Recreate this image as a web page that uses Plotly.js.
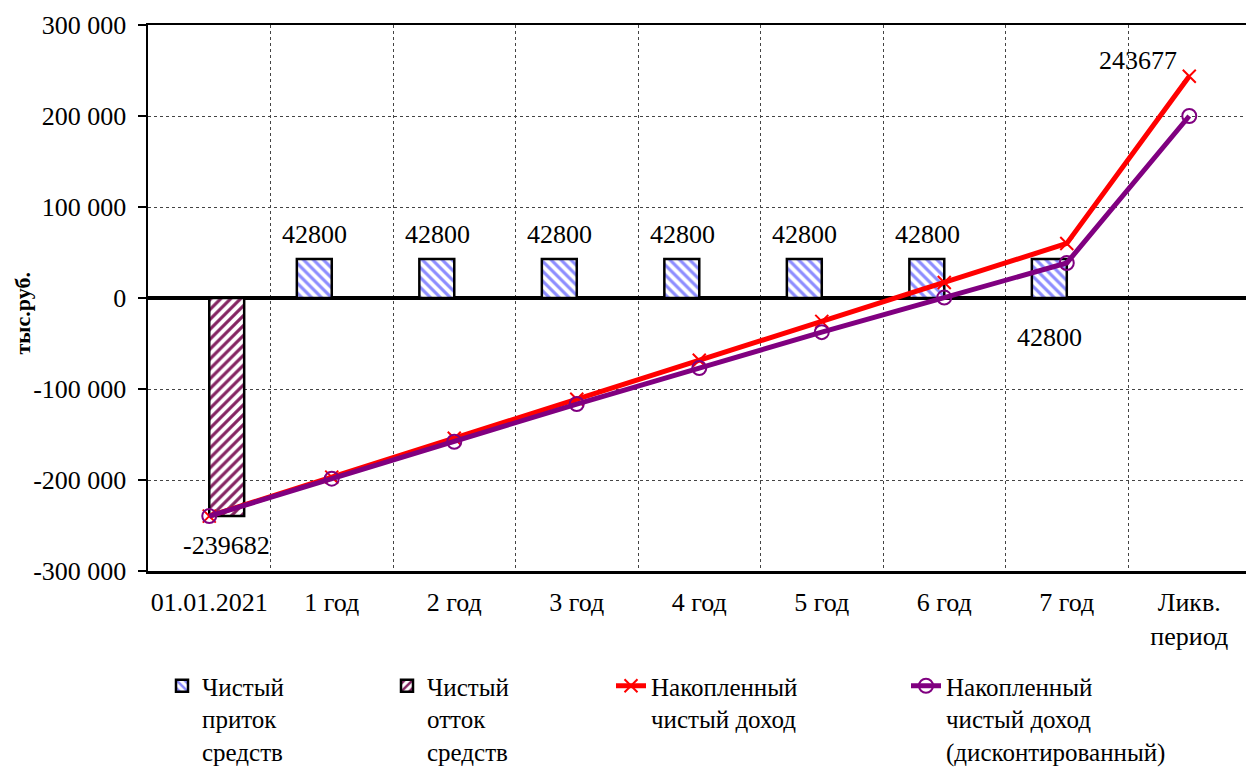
<!DOCTYPE html>
<html>
<head>
<meta charset="utf-8">
<script src="https://cdn.plot.ly/plotly-3.0.1.min.js"></script>
<style>html,body{margin:0;padding:0;background:#fff;}#chart{width:1246px;height:767px;}</style>
</head>
<body>
<div id="chart"></div>
<script>
const categories = ['01.01.2021', '1 год', '2 год', '3 год', '4 год', '5 год', '6 год', '7 год', 'Ликв.<br>период'];
const inflow = [null, 42800, 42800, 42800, 42800, 42800, 42800, 42800, null];
const outflow = [-239682, null, null, null, null, null, null, null, null];
const cumulative = [-239682, -196882, -154082, -111282, -68482, -25682, 17118, 59918, 243677];
const discounted = [-239682, -198500, -158000, -116500, -77000, -37500, 500, 38500, 200000];
const yTickVals = [300000, 200000, 100000, 0, -100000, -200000, -300000];
const yTickText = ['300 000', '200 000', '100 000', '0', '-100 000', '-200 000', '-300 000'];
const seriesNames = ['Чистый<br>приток<br>средств', 'Чистый<br>отток<br>средств', 'Накопленный<br>чистый доход', 'Накопленный<br>чистый доход<br>(дисконтированный)'];

const FONT = 'Liberation Serif';
const FS = 26;

const traces = [
  {type: 'bar', x: categories, y: inflow, name: seriesNames[0], legend: 'legend',
   marker: {color: 'white', line: {color: 'black', width: 2.5},
            pattern: {shape: '\\', fgcolor: '#8c8cff', bgcolor: 'white', size: 7, solidity: 0.45}}},
  {type: 'bar', x: categories, y: outflow, name: seriesNames[1], legend: 'legend2',
   marker: {color: 'white', line: {color: 'black', width: 2.5},
            pattern: {shape: '/', fgcolor: '#842462', bgcolor: 'white', size: 7, solidity: 0.45}}},
  {type: 'scatter', mode: 'lines+markers', x: categories, y: cumulative, name: seriesNames[2], legend: 'legend3',
   line: {color: '#ff0000', width: 5},
   marker: {symbol: 'x-thin', size: 13, color: '#ff0000', line: {color: '#ff0000', width: 2}}},
  {type: 'scatter', mode: 'lines+markers', x: categories, y: discounted, name: seriesNames[3], legend: 'legend4',
   line: {color: '#800080', width: 5},
   marker: {symbol: 'circle-open', size: 14, color: '#800080', line: {color: '#800080', width: 2}}}
];

const annotations = [];
for (let i = 1; i <= 6; i++) {
  annotations.push({x: categories[i], y: inflow[i], xref: 'x', yref: 'y', text: String(inflow[i]),
    showarrow: false, xshift: -17, yshift: 25, yanchor: 'middle', font: {family: FONT, size: FS, color: 'black'}});
}
annotations.push({x: categories[7], y: inflow[7], xref: 'x', yref: 'y', text: String(inflow[7]),
  showarrow: false, xshift: -17, yshift: -78, yanchor: 'middle', font: {family: FONT, size: FS, color: 'black'}});
annotations.push({x: categories[0], y: outflow[0], xref: 'x', yref: 'y', text: String(outflow[0]),
  showarrow: false, xshift: 17, yshift: -29, yanchor: 'middle', font: {family: FONT, size: FS, color: 'black'}});
annotations.push({x: categories[8], y: cumulative[8], xref: 'x', yref: 'y', text: String(cumulative[8]),
  showarrow: false, xshift: -51, yshift: 16, yanchor: 'middle', font: {family: FONT, size: FS, color: 'black'}});
annotations.push({x: -0.1143, y: 0.4725, xref: 'paper', yref: 'paper', text: '<b>тыс.руб.</b>', textangle: -90,
  showarrow: false, xanchor: 'center', yanchor: 'middle', font: {family: FONT, size: 22, color: 'black'}});

function legendAt(px, py) {
  return {orientation: 'v', xref: 'container', yref: 'container', x: px / 1246, y: 1 - py / 767,
          xanchor: 'left', yanchor: 'top', valign: 'top', bgcolor: 'rgba(0,0,0,0)',
          font: {family: FONT, size: 25, color: 'black'}, itemwidth: 30, tracegroupgap: 0};
}

const layout = {
  width: 1246, height: 767,
  margin: {l: 148, r: 0, t: 25, b: 196, autoexpand: false},
  paper_bgcolor: 'white', plot_bgcolor: 'white',
  font: {family: FONT, size: FS, color: 'black'},
  barmode: 'group', bargap: 0.43, bargroupgap: 0,
  showlegend: true,
  legend: legendAt(162, 663),
  legend2: legendAt(387, 663),
  legend3: legendAt(611, 663),
  legend4: legendAt(906, 663),
  xaxis: {type: 'category', range: [-0.5, 8.463], tickson: 'boundaries', ticks: '',
          showgrid: true, gridcolor: '#444', griddash: 'dot', gridwidth: 1,
          showline: true, linecolor: 'black', linewidth: 2.5, mirror: true, tickangle: 0, automargin: false,
          tickfont: {family: FONT, size: FS, color: 'black'}, ticklabelstandoff: 6, fixedrange: true},
  xaxis2: {overlaying: 'x', anchor: 'free', position: 0.5, range: [-0.5, 8.463], type: 'linear',
           tickmode: 'array', tickvals: [-0.5, 0.5, 1.5, 2.5, 3.5, 4.5, 5.5, 6.5, 7.5, 8.5],
           ticks: 'outside', ticklen: 6, tickwidth: 4, tickcolor: 'black', automargin: false,
           showticklabels: false, showgrid: false, showline: false, zeroline: false},
  yaxis: {range: [-300000, 300000], tickmode: 'array', tickvals: yTickVals, ticktext: yTickText,
          ticks: 'outside', ticklen: 8, tickcolor: 'black', tickwidth: 1.5, automargin: false,
          showgrid: true, gridcolor: '#444', griddash: 'dot', gridwidth: 1,
          showline: true, linecolor: 'black', linewidth: 2.5,
          zeroline: true, zerolinecolor: 'black', zerolinewidth: 4,
          tickfont: {family: FONT, size: FS, color: 'black'}, ticklabelstandoff: 6, fixedrange: true},
  annotations: annotations
};

Plotly.newPlot('chart', traces, layout, {displayModeBar: false, staticPlot: true});
</script>
</body>
</html>
